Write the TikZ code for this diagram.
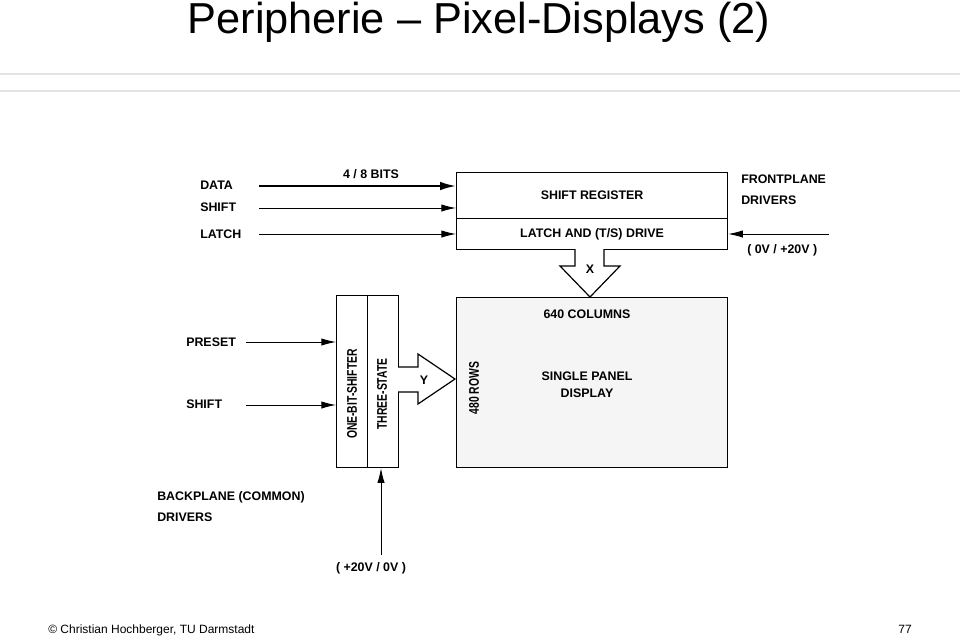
\documentclass[tikz,border=0pt]{standalone}
\usepackage{fontspec}
\setmainfont{Liberation Sans}
\usetikzlibrary{arrows.meta}
\definecolor{rulegrey}{HTML}{E4E4E4}
\definecolor{panelfill}{HTML}{F5F5F5}
\tikzset{
  lbl/.style={inner sep=0pt, font=\fontsize{9.3}{11}\selectfont\bfseries},
  vlbl/.style={inner sep=0pt, rotate=90, xscale=0.74, font=\fontsize{10.5}{12}\selectfont\bfseries},
  boxx/.style={draw, line width=0.9pt, inner sep=0pt, anchor=north west},
  sig/.style={line width=0.7pt, -{Latex[length=11pt,width=5.5pt]}},
  sigthick/.style={line width=1.5pt, -{Latex[length=12pt,width=6.5pt]}},
  hollow/.style={draw, line width=0.9pt, fill=white, line join=miter}
}
\begin{document}
\begin{tikzpicture}[x=0.75pt,y=-0.75pt]
\useasboundingbox (0,0) rectangle (960,636);
% title and rules
\node[inner sep=0pt, anchor=base, font=\fontsize{32.5}{35}\selectfont] (title) at (479,33) {Peripherie -- Pixel-Displays (2)};
\draw[rulegrey, line width=0.8pt] (0,74) -- (960,74);
\draw[rulegrey, line width=0.8pt] (0,91) -- (960,91);
% footer
\node[inner sep=0pt, anchor=base west, font=\fontsize{9}{11}\selectfont] (foot) at (48,633) {\textcopyright{} Christian Hochberger, TU Darmstadt};
\node[inner sep=0pt, anchor=base east, font=\fontsize{9}{11}\selectfont] (page) at (912,633) {77};

% top register boxes
\node[boxx, minimum width=203.25pt, minimum height=34.5pt] (sr) at (456,172) {};
\node[lbl] at (sr.center) {SHIFT REGISTER};
\node[boxx, minimum width=203.25pt, minimum height=23.25pt] (latch) at (456,218) {};
\node[lbl] at (latch.center) {LATCH AND (T/S) DRIVE};

% input labels and arrows
\node[lbl, anchor=west] (data) at (200,185) {DATA};
\node[lbl, anchor=west] (shift1) at (200,207) {SHIFT};
\node[lbl, anchor=west] (latchl) at (200,234) {LATCH};
\node[lbl] (bits) at (371,174) {4 / 8 BITS};
\coordinate (d0) at (259,186);
\coordinate (s0) at (259,208);
\coordinate (l0) at (259,234);
\draw[sigthick] (d0) -- (d0 -| sr.west);
\draw[sig] (s0) -- (s0 -| sr.west);
\draw[sig] (l0) -- (l0 -| latch.west);

% frontplane drivers
\node[lbl, anchor=west] (fp1) at (741,179) {FRONTPLANE};
\node[lbl, anchor=west] (fp2) at (741,200) {DRIVERS};
\node[lbl, anchor=west] (fpv) at (747,250) {( 0V / +20V )};
\coordinate (f0) at (829,234);
\draw[sig] (f0) -- (f0 -| latch.east);

% display
\node[boxx, fill=panelfill, minimum width=203.25pt, minimum height=127.5pt] (disp) at (456,297) {};
\node[lbl] (cols) at (587,314) {640 COLUMNS};
\node[lbl, align=center, font=\fontsize{9.3}{12.8}\selectfont\bfseries] (spd) at (587,385) {SINGLE PANEL\\DISPLAY};
\node[vlbl] (rows) at (474,388) {480 ROWS};

% X hollow arrow (latch -> display)
\draw[hollow] (575,249) -- (575,266) -- (560,266) -- (590,297) -- (620,266) -- (604,266) -- (604,249);
\node[lbl] (xl) at (590,269) {X};

% left column boxes
\node[boxx, minimum width=23.25pt, minimum height=129pt] (obs) at (336,295) {};
\node[boxx, minimum width=23.25pt, minimum height=129pt] (ts) at (367,295) {};
\node[vlbl] at (352,394) {ONE-BIT-SHIFTER};
\node[vlbl] at (382,394) {THREE-STATE};

% Y hollow arrow
\draw[hollow] (398,367) -- (418,367) -- (418,354) -- (455,379) -- (418,404) -- (418,392) -- (398,392);
\node[lbl] (yl) at (424,380) {Y};

% preset/shift
\node[lbl, anchor=west] (preset) at (186,342) {PRESET};
\node[lbl, anchor=west] (shift2) at (186,404) {SHIFT};
\coordinate (p0) at (246,342);
\coordinate (q0) at (246,405);
\draw[sig] (p0) -- (p0 -| obs.west);
\draw[sig] (q0) -- (q0 -| obs.west);

% backplane
\node[lbl, anchor=west] (bp1) at (157,497) {BACKPLANE (COMMON)};
\node[lbl, anchor=west] (bp2) at (157,517) {DRIVERS};
\node[lbl] (bpv) at (371,568) {( +20V / 0V )};
\coordinate (b0) at (381,555);
\draw[sig] (b0) -- (b0 |- ts.south);
\end{tikzpicture}
\end{document}
